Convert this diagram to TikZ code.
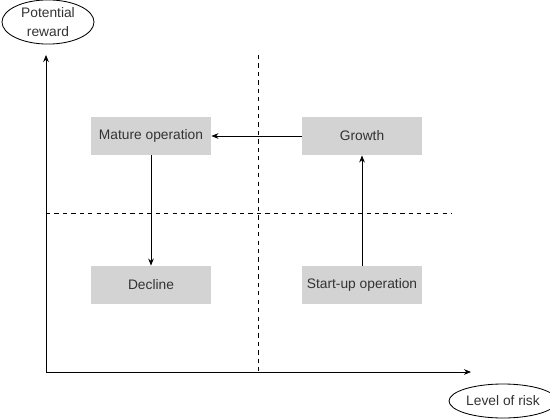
\documentclass[tikz,border=0pt]{standalone}
\usepackage{fontspec}
\setmainfont{Liberation Sans}
\usetikzlibrary{shapes, arrows, arrows.meta, positioning, calc}
\definecolor{boxgray}{HTML}{D3D3D3}
\definecolor{textgray}{HTML}{333333}

\begin{document}
\begin{tikzpicture}[x=0.025cm, y=-0.025cm, line width=0.6pt, >={Stealth[length=5pt, width=4pt]}, every node/.style={text=textgray, font=\fontsize{9.8}{11}\selectfont}]
                \useasboundingbox (0,0) rectangle (550,419);
                \tikzset{stage/.style={rectangle, fill=boxgray, minimum width=3cm, minimum height=0.95cm}}
                \tikzset{axislabel/.style={ellipse, draw, inner sep=1pt}}
                % axes
                \coordinate (o) at (46,372);
                \coordinate (ytop) at (46,55);
                \coordinate (xend) at (471,372);
                \draw[->] (o) -- (ytop);
                \draw[->] (o) -- (xend);
                \node[axislabel, minimum width=2.3cm, minimum height=1cm, align=center, font=\fontsize{9.8}{13}\selectfont] (reward) at (48,22) {Potential\\reward};
                \node[axislabel, minimum width=2.25cm, minimum height=0.85cm] (risk) at (503,401) {Level of risk};
                % quadrants
                \draw[dashed, thin] (258,55) -- (258,372);
                \draw[dashed, thin] (46,213) -- (452,213);
                % stages
                \node[stage] (mature) at (151,136) {Mature operation};
                \node[stage] (growth) at (362,136) {Growth};
                \node[stage] (decline) at (151,285) {Decline};
                \node[stage] (startup) at (362,285) {Start-up operation};
                \draw[->] (growth) -- (mature);
                \draw[->] (mature) -- (decline);
                \draw[->] (startup) -- (growth);
            \end{tikzpicture}
\end{document}
